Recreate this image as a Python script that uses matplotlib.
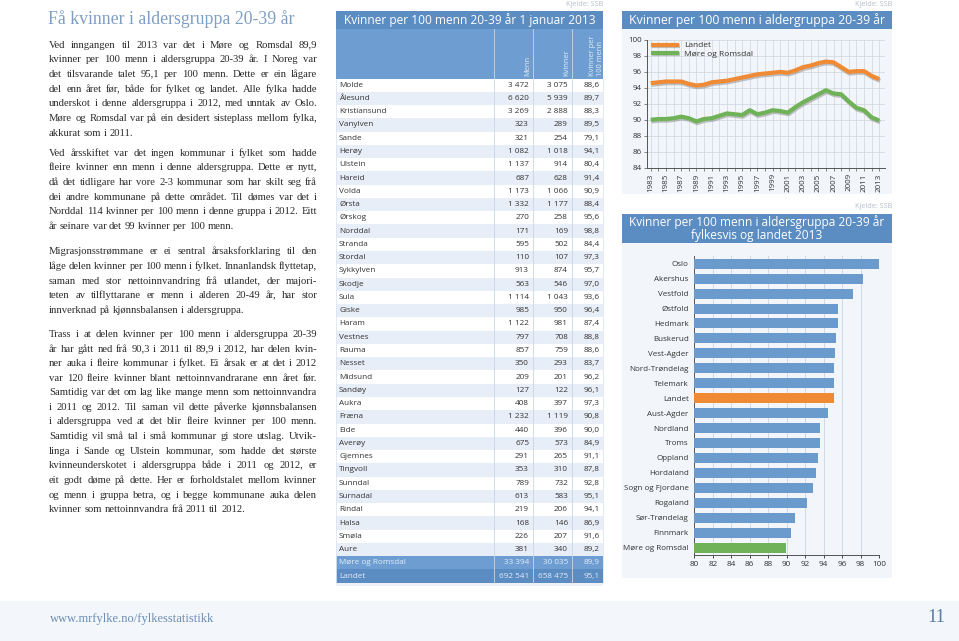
import math
import matplotlib
matplotlib.use("Agg")
import matplotlib.pyplot as plt
import matplotlib.patches as mpatches
import matplotlib.patheffects as pe
from matplotlib.font_manager import FontProperties
import numpy as np

# ---------------- data ----------------
kommunar = ["Molde", "Ålesund", "Kristiansund", "Vanylven", "Sande", "Herøy", "Ulstein",
            "Hareid", "Volda", "Ørsta", "Ørskog", "Norddal", "Stranda", "Stordal",
            "Sykkylven", "Skodje", "Sula", "Giske", "Haram", "Vestnes", "Rauma", "Nesset",
            "Midsund", "Sandøy", "Aukra", "Fræna", "Eide", "Averøy", "Gjemnes", "Tingvoll",
            "Sunndal", "Surnadal", "Rindal", "Halsa", "Smøla", "Aure",
            "Møre og Romsdal", "Landet"]
menn = [3472, 6620, 3269, 323, 321, 1082, 1137, 687, 1173, 1332, 270, 171, 595, 110,
        913, 563, 1114, 985, 1122, 797, 857, 350, 209, 127, 408, 1232, 440, 675, 291,
        353, 789, 613, 219, 168, 226, 381, 33394, 692541]
kvinner = [3075, 5939, 2888, 289, 254, 1018, 914, 628, 1066, 1177, 258, 169, 502, 107,
           874, 546, 1043, 950, 981, 708, 759, 293, 201, 122, 397, 1119, 396, 573, 265,
           310, 732, 583, 206, 146, 207, 340, 30035, 658475]
ratio = [88.6, 89.7, 88.3, 89.5, 79.1, 94.1, 80.4, 91.4, 90.9, 88.4, 95.6, 98.8, 84.4,
         97.3, 95.7, 97.0, 93.6, 96.4, 87.4, 88.8, 88.6, 83.7, 96.2, 96.1, 97.3, 90.8,
         90.0, 84.9, 91.1, 87.8, 92.8, 95.1, 94.1, 86.9, 91.6, 89.2, 89.9, 95.1]

years = list(range(1983, 2014))
landet_series = [94.6, 94.7, 94.8, 94.8, 94.8, 94.5, 94.3, 94.4, 94.7, 94.8, 94.9, 95.1,
                 95.3, 95.5, 95.7, 95.8, 95.9, 96.0, 95.9, 96.2, 96.6, 96.8, 97.1, 97.3,
                 97.2, 96.6, 96.0, 96.1, 96.1, 95.5, 95.1]
mr_series = [90.0, 90.1, 90.1, 90.2, 90.4, 90.2, 89.8, 90.1, 90.2, 90.5, 90.8, 90.7,
             90.6, 91.2, 90.7, 90.9, 91.2, 91.1, 90.9, 91.6, 92.2, 92.7, 93.2, 93.7,
             93.3, 93.2, 92.3, 91.5, 91.2, 90.3, 89.9]

fylke = ["Oslo", "Akershus", "Vestfold", "Østfold", "Hedmark", "Buskerud", "Vest-Agder",
         "Nord-Trøndelag", "Telemark", "Landet", "Aust-Agder", "Nordland", "Troms",
         "Oppland", "Hordaland", "Sogn og Fjordane", "Rogaland", "Sør-Trøndelag",
         "Finnmark", "Møre og Romsdal"]
fylke_verdi = [100.0, 98.3, 97.2, 95.6, 95.6, 95.3, 95.2, 95.1, 95.1, 95.1, 94.5, 93.6,
               93.6, 93.4, 93.2, 92.8, 92.2, 90.9, 90.5, 89.9]

para1 = ["Ved inngangen til 2013 var det i Møre og Romsdal 89,9",
         "kvinner per 100 menn i aldersgruppa 20-39 år. I Noreg var",
         "det tilsvarande talet 95,1 per 100 menn. Dette er ein lågare",
         "del enn året før, både for fylket og landet. Alle fylka hadde",
         "underskot i denne aldersgruppa i 2012, med unntak av Oslo.",
         "Møre og Romsdal var på ein desidert sisteplass mellom fylka,",
         "akkurat som i 2011."]
para2 = ["Ved årsskiftet var det ingen kommunar i fylket som hadde",
         "fleire kvinner enn menn i denne aldersgruppa. Dette er nytt,",
         "då det tidligare har vore 2-3 kommunar som har skilt seg frå",
         "dei andre kommunane på dette området. Til dømes var det i",
         "Norddal 114 kvinner per 100 menn i denne gruppa i 2012. Eitt",
         "år seinare var det 99 kvinner per 100 menn."]
para3 = ["Migrasjonsstrømmane er ei sentral årsaksforklaring til den",
         "låge delen kvinner per 100 menn i fylket. Innanlandsk flyttetap,",
         "saman med stor nettoinnvandring frå utlandet, der majori-",
         "teten av tilflyttarane er menn i alderen 20-49 år, har stor",
         "innverknad på kjønnsbalansen i aldersgruppa."]
para4 = ["Trass i at delen kvinner per 100 menn i aldersgruppa 20-39",
         "år har gått ned frå 90,3 i 2011 til 89,9 i 2012, har delen kvin-",
         "ner auka i fleire kommunar i fylket. Ei årsak er at det i 2012",
         "var 120 fleire kvinner blant nettoinnvandrarane enn året før.",
         "Samtidig var det om lag like mange menn som nettoinnvandra",
         "i 2011 og 2012. Til saman vil dette påverke kjønnsbalansen",
         "i aldersgruppa ved at det blir fleire kvinner per 100 menn.",
         "Samtidig vil små tal i små kommunar gi store utslag. Utvik-",
         "linga i Sande og Ulstein kommunar, som hadde det største",
         "kvinneunderskotet i aldersgruppa både i 2011 og 2012, er",
         "eit godt døme på dette. Her er forholdstalet mellom kvinner",
         "og menn i gruppa betra, og i begge kommunane auka delen",
         "kvinner som nettoinnvandra frå 2011 til 2012."]

# ---------------- style ----------------
W, H = 959, 641
BLUE_DARK = "#5b8cc2"
BLUE_HEAD = "#6e9ed1"
BAR_BLUE = "#6b9bcd"
ORANGE = "#ef8a35"
GREEN = "#6fb257"
PANEL = "#f2f5fa"
ROW_ALT = "#e7eef7"
SANS = ["Open Sans", "DejaVu Sans"]
SERIF = ["Liberation Serif", "DejaVu Serif"]

fig = plt.figure(figsize=(W / 100, H / 100), dpi=100)
fig.patch.set_facecolor("white")


def fax(x0, y0, x1, y1):
    return [x0 / W, 1 - y1 / H, (x1 - x0) / W, (y1 - y0) / H]


page = fig.add_axes([0, 0, 1, 1])
page.set_xlim(0, W)
page.set_ylim(H, 0)
page.axis("off")
renderer = fig.canvas.get_renderer()


def rect(x0, y0, x1, y1, color, z=1, **kw):
    page.add_patch(mpatches.Rectangle((x0, y0), x1 - x0, y1 - y0, facecolor=color,
                                      edgecolor="none", zorder=z, **kw))


# footer
rect(0, 601, W, H, "#f3f6fa")
page.text(50, 619, "www.mrfylke.no/fylkesstatistikk", family=SERIF, fontsize=9,
          color="#6a8db5", va="center", ha="left")
page.text(945, 618, "11", family=SERIF, fontsize=13.5, color="#5a7ea6",
          va="center", ha="right")

# ---------------- left text column ----------------
page.text(48, 19, "Få kvinner i aldersgruppa 20-39 år", family=SERIF, fontsize=12.8,
          color="#7e9ec4", va="center", ha="left")

TX0, TX1 = 49, 317
BODY_SIZE = 7.7
BODY_KW = dict(family=SERIF, fontsize=BODY_SIZE, color="#2a2a2a", va="baseline",
               ha="left")
BODY_PROP = FontProperties(family=SERIF, size=BODY_SIZE)


def metrics(s):
    return renderer.get_text_width_height_descent(s, BODY_PROP, ismath=False)


def width_of(s):
    t = page.text(0, 0, s, **BODY_KW)
    w = t.get_window_extent(renderer).width
    t.remove()
    return w


space_w = width_of("a a") - width_of("aa")


def snapped_y(word, base):
    # place the word so that its glyph baseline lands exactly on pixel row `base`
    _, h, d = metrics(word)
    return base + math.floor(h) - math.floor(h - d) - d


def paragraph(lines, y0, dy=14.6):
    for i, line in enumerate(lines):
        base = int(round(y0 + i * dy + 3.4))
        words = line.split(" ")
        widths = [width_of(w) for w in words]
        last = i == len(lines) - 1
        if last or len(words) == 1:
            gap = space_w
        else:
            gap = (TX1 - TX0 - sum(widths)) / (len(words) - 1)
            gap = max(gap, 0.72 * space_w)
        x = TX0
        for w, wd in zip(words, widths):
            page.text(x, snapped_y(w, base), w, **BODY_KW)
            x += wd + gap


paragraph(para1, 44.5)
paragraph(para2, 152.5)
paragraph(para3, 251)
paragraph(para4, 333.5)

# ---------------- table ----------------
TL, TR = 336, 603
C1, C2, C3 = 494, 533, 572
page.text(TR, 5, "Kjelde: SSB", family=SANS, fontsize=5.2, color="#b4bcc8",
          ha="right", va="center")
rect(TL, 11, TR, 29, BLUE_DARK, z=2)
page.text((TL + TR) / 2, 20, "Kvinner per 100 menn 20-39 år 1 januar 2013", family=SANS,
          fontsize=8.6, color="white", ha="center", va="center", zorder=3)
rect(TL, 29, TR, 78.5, BLUE_HEAD, z=2)
HEAD_KW = dict(family=SANS, fontsize=5.4, color="#e3ecf7", rotation=90, ha="center",
               va="bottom", zorder=3)
page.text(527.5, 76, "Menn", **HEAD_KW)
page.text(566.5, 76, "Kvinner", **HEAD_KW)
page.text(596.5, 76, "Kvinner per\n100 menn", linespacing=1.0, multialignment="left",
          **HEAD_KW)

ROW_H = 13.27
ROW_TOP = 78.5
n = len(kommunar)


def fmt_int(v):
    return f"{v:,}".replace(",", " ")


for i in range(n):
    y0 = ROW_TOP + i * ROW_H
    yc = y0 + ROW_H / 2
    summary = i >= n - 2
    if summary:
        col = BLUE_HEAD if i == n - 2 else BLUE_DARK
        tc = "#e3ecf7"
    else:
        col = "white" if i % 2 == 0 else ROW_ALT
        tc = "#333333"
    rect(TL, y0, TR, y0 + ROW_H, col, z=2)
    kw = dict(family=SANS, fontsize=5.9, color=tc, va="center", zorder=3)
    page.text(TL + 3, yc, kommunar[i], ha="left", **kw)
    page.text(C2 - 4, yc, fmt_int(menn[i]), ha="right", **kw)
    page.text(C3 - 4, yc, fmt_int(kvinner[i]), ha="right", **kw)
    page.text(TR - 3, yc, f"{ratio[i]:.1f}".replace(".", ","), ha="right", **kw)

tbot = ROW_TOP + n * ROW_H
for cx in (C1, C2, C3):
    page.plot([cx, cx], [29, tbot], color="#c9d6e8", lw=0.6, zorder=4)
page.plot([TL, TL], [78.5, tbot], color="#dde5f0", lw=0.6, zorder=4)
page.plot([TR, TR], [78.5, tbot], color="#dde5f0", lw=0.6, zorder=4)
rect(TL, tbot, TR, tbot + 3, "#eef1f5", z=1)

# ---------------- line chart ----------------
LX0, LX1 = 622, 892
page.text(LX1, 4.5, "Kjelde: SSB", family=SANS, fontsize=5.2, color="#b4bcc8",
          ha="right", va="center")
rect(LX0, 11, LX1, 29, BLUE_DARK, z=2)
page.text((LX0 + LX1) / 2, 20, "Kvinner per 100 menn i aldergruppa 20-39 år",
          family=SANS, fontsize=8.8, color="white", ha="center", va="center", zorder=3)
rect(LX0, 29, LX1, 194, PANEL, z=1)

ax = fig.add_axes(fax(647.3, 40, 885, 167.7))
ax.set_facecolor(PANEL)
shadow = [pe.SimpleLineShadow(offset=(0.6, -1.2), shadow_color="#9a9a9a", alpha=0.6),
          pe.Normal()]
ax.plot(years, landet_series, color=ORANGE, lw=3.0, label="Landet",
        path_effects=shadow, solid_capstyle="butt", zorder=3)
ax.plot(years, mr_series, color=GREEN, lw=3.0, label="Møre og Romsdal",
        path_effects=shadow, solid_capstyle="butt", zorder=3)
ax.set_xlim(1982.55, 2013.75)
ax.set_ylim(84, 100)
ax.set_yticks(np.arange(84, 101, 2))
ax.set_xticks(years[::2])
ax.set_xticks(years, minor=True)
ax.grid(True, which="both", color="#cdd4de", lw=0.5)
ax.set_axisbelow(True)
for s in ("top", "right"):
    ax.spines[s].set_visible(False)
for s in ("left", "bottom"):
    ax.spines[s].set_color("#555555")
    ax.spines[s].set_linewidth(0.7)
ax.tick_params(axis="both", which="both", length=2, width=0.5, color="#555555",
               labelsize=5.8, labelcolor="#333333", pad=2)
ax.tick_params(axis="x", rotation=90)
for lab in ax.get_xticklabels() + ax.get_yticklabels():
    lab.set_family(SANS)
leg = ax.legend(loc="upper left", frameon=False, fontsize=6.0, handlelength=3.3,
                borderaxespad=0.1, labelspacing=0.05, handletextpad=0.6,
                bbox_to_anchor=(0.0, 1.02))
for t in leg.get_texts():
    t.set_family(SANS)
    t.set_color("#333333")

# ---------------- bar chart ----------------
page.text(LX1, 207, "Kjelde: SSB", family=SANS, fontsize=5.2, color="#b4bcc8",
          ha="right", va="center")
rect(LX0, 214, LX1, 243, BLUE_DARK, z=2)
page.text((LX0 + LX1) / 2, 228.5,
          "Kvinner per 100 menn i aldersgruppa 20-39 år\nfylkesvis og landet 2013",
          family=SANS, fontsize=8.6, color="white", ha="center", va="center",
          linespacing=1.05, zorder=3)
rect(LX0, 243, LX1, 578, PANEL, z=1)

bx = fig.add_axes(fax(694.3, 255.5, 879, 555))
bx.set_facecolor(PANEL)
ypos = np.arange(len(fylke))
colors = [ORANGE if f == "Landet" else GREEN if f == "Møre og Romsdal" else BAR_BLUE
          for f in fylke]
bx.barh(ypos, np.array(fylke_verdi) - 80, left=80, height=0.67, color=colors, zorder=3)
bx.set_xlim(80, 100)
bx.set_ylim(len(fylke) - 0.5, -0.55)
bx.set_xticks(np.arange(80, 101, 2))
bx.set_yticks(ypos)
bx.set_yticklabels(fylke)
bx.grid(True, axis="x", color="#cdd4de", lw=0.6)
bx.set_axisbelow(True)
for s in ("top", "right"):
    bx.spines[s].set_visible(False)
for s in ("left", "bottom"):
    bx.spines[s].set_color("#555555")
    bx.spines[s].set_linewidth(0.7)
bx.tick_params(axis="y", length=0, labelsize=5.8, labelcolor="#333333", pad=4)
bx.tick_params(axis="x", length=2, width=0.5, labelsize=5.9, labelcolor="#333333", pad=2)
for lab in bx.get_xticklabels() + bx.get_yticklabels():
    lab.set_family(SANS)

fig.savefig("out.png", dpi=100, facecolor="white")
